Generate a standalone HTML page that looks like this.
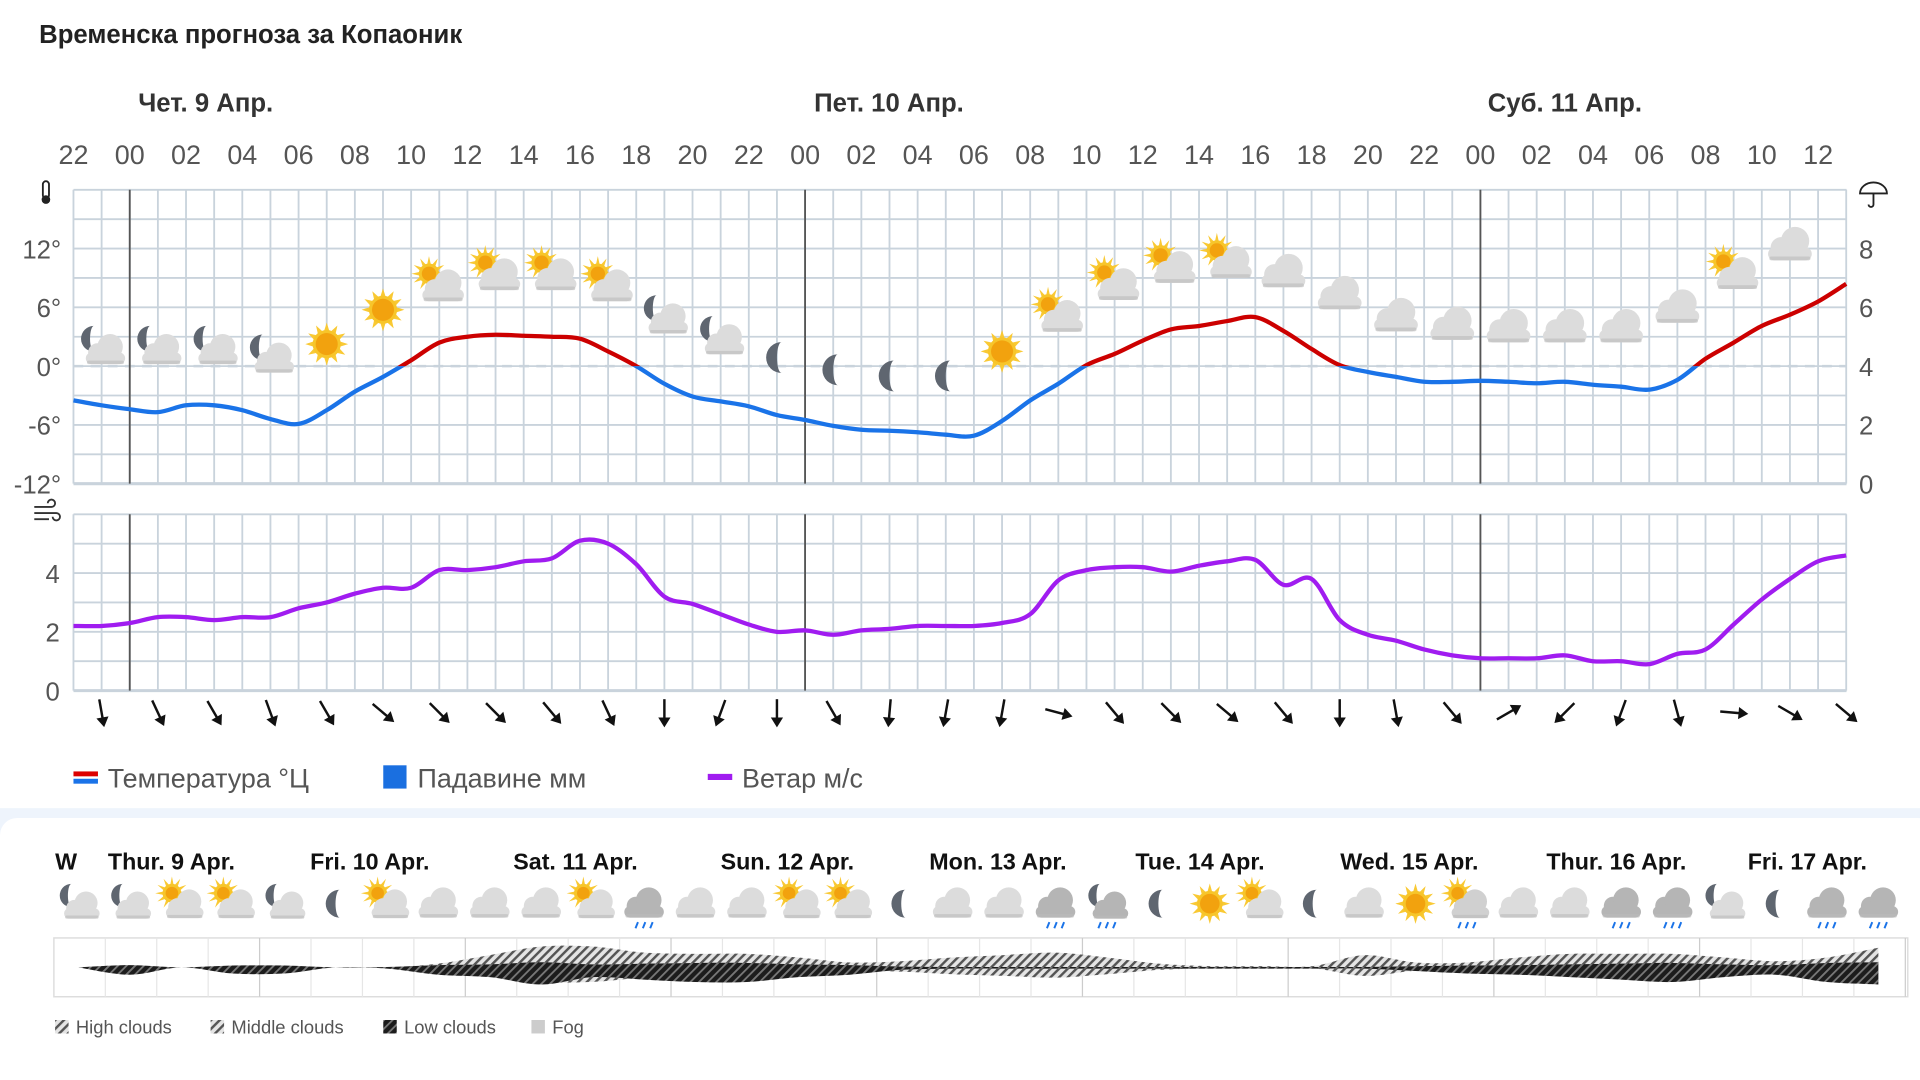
<!DOCTYPE html>
<html><head><meta charset="utf-8"><style>
html,body{margin:0;padding:0;background:#fff;width:1920px;height:1080px;overflow:hidden}
svg text{font-family:"Liberation Sans","Noto Sans CJK SC",sans-serif}
</style></head><body>
<svg id="root" xmlns="http://www.w3.org/2000/svg" width="1920" height="1080" viewBox="0 0 1568 882" preserveAspectRatio="none">
<defs>
<pattern id="hatch" width="5" height="5" patternUnits="userSpaceOnUse" patternTransform="rotate(45)"><rect width="5" height="5" fill="#e4e4e4"/><rect width="2" height="5" fill="#555"/></pattern>
<pattern id="hatchDark" width="5" height="5" patternUnits="userSpaceOnUse" patternTransform="rotate(45)"><rect width="5" height="5" fill="#1c1c1c"/><rect width="1.5" height="5" fill="#777"/></pattern>
<clipPath id="aboveZero"><rect x="0" y="0" width="1568" height="299"/></clipPath>
<clipPath id="belowZero"><rect x="0" y="299" width="1568" height="200"/></clipPath>
</defs>
<rect width="1568" height="882" fill="#fff"/>
<text x="32" y="35" font-size="21" font-weight="bold" fill="#222">Временска прогноза за Копаоник</text>
<text x="168" y="91" font-size="21" font-weight="bold" fill="#333" text-anchor="middle">Чет. 9 Апр.</text>
<text x="726" y="91" font-size="21" font-weight="bold" fill="#333" text-anchor="middle">Пет. 10 Апр.</text>
<text x="1278" y="91" font-size="21" font-weight="bold" fill="#333" text-anchor="middle">Суб. 11 Апр.</text>
<g id="grid"></g>
<g id="axes"></g>
<g id="icons"></g>
<g id="lines"></g>
<g id="arrows"></g>
<g>
 <rect x="60" y="630" width="20" height="4" fill="#d00"/><rect x="60" y="636" width="20" height="4" fill="#1a73e8"/>
 <text x="88" y="643" font-size="22" fill="#555">Температура °Ц</text>
 <rect x="313" y="625" width="19" height="19" fill="#1a6fe0"/>
 <text x="341" y="643" font-size="22" fill="#555">Падавине мм</text>
 <rect x="578" y="632" width="20" height="5" fill="#a01cf0"/>
 <text x="606" y="643" font-size="22" fill="#555">Ветар м/с</text>
</g>
<rect x="0" y="660" width="1568" height="222" fill="#eef4fc"/>
<rect x="0" y="668" width="1580" height="230" rx="14" fill="#fff"/>
<g id="bottom"></g>
<g font-size="15" fill="#555">
 <rect x="45" y="833" width="11" height="11" fill="url(#hatch)"/><text x="62" y="844">High clouds</text>
 <rect x="172" y="833" width="11" height="11" fill="url(#hatch)"/><text x="189" y="844">Middle clouds</text>
 <rect x="313" y="833" width="11" height="11" fill="url(#hatchDark)"/><text x="330" y="844">Low clouds</text>
 <rect x="434" y="833" width="11" height="11" fill="#ccc"/><text x="451" y="844">Fog</text>
</g>
</svg>
<script>
// ---- data ----
const hourLabels = ["22","00","02","04","06","08","10","12","14","16","18","20","22","00","02","04","06","08","10","12","14","16","18","20","22","00","02","04","06","08","10","12"];
const tempTicks = [12,6,0,-6,-12];
const precipTicks = [8,6,4,2,0];
const windTicks = [4,2,0];
const temperature = [-3.5,-4,-4.4,-4.7,-4,-4,-4.5,-5.4,-5.9,-4.5,-2.6,-1.1,0.6,2.4,3,3.2,3.1,3,2.8,1.5,0,-1.8,-3.1,-3.6,-4.1,-5,-5.5,-6.1,-6.5,-6.6,-6.75,-7,-7.1,-5.6,-3.5,-1.8,0.1,1.25,2.6,3.75,4.1,4.6,5,3.6,1.75,0.1,-0.6,-1.1,-1.6,-1.6,-1.5,-1.6,-1.75,-1.6,-1.9,-2.1,-2.4,-1.4,0.75,2.4,4.1,5.25,6.6,8.4];
const wind = [2.2,2.2,2.3,2.5,2.5,2.4,2.5,2.5,2.8,3.0,3.3,3.5,3.5,4.1,4.1,4.2,4.4,4.5,5.1,5.0,4.3,3.2,2.95,2.6,2.25,2.0,2.05,1.9,2.05,2.1,2.2,2.2,2.2,2.3,2.6,3.75,4.1,4.2,4.2,4.05,4.25,4.4,4.45,3.6,3.8,2.4,1.9,1.7,1.4,1.2,1.1,1.1,1.1,1.2,1.0,1.0,0.9,1.25,1.4,2.25,3.1,3.8,4.4,4.6];
const windDir = [170,155,150,160,150,130,135,135,140,155,180,200,180,150,185,190,190,105,140,135,130,140,180,170,140,60,225,200,165,95,120,130];
const iconTypes = ["mc","mc","mc","mc","s","s","sc","sc","sc","sc","mc","mc","m","m","m","m","s","sc","sc","sc","sc","c","c","c","c","c","c","c","c","sc","c"];
const iconOffsets = [7,7,7,0,10,38,58,67,67,58,32,15,-1,-11,-16,-16,4,33,59,73,77,69,51,33,26,24,24,24,40,68,91];
const bottomDays = ["Thur. 9 Apr.","Fri. 10 Apr.","Sat. 11 Apr.","Sun. 12 Apr.","Mon. 13 Apr.","Tue. 14 Apr.","Wed. 15 Apr.","Thur. 16 Apr.","Fri. 17 Apr."];
const bottomIcons = ["mc","mc","sc","sc","mc","m","sc","c","c","c","sc","r","c","c","sc","sc","m","c","c","r","mr","m","s","sc","m","c","s","sr","c","c","r","r","mc","m","r","r"];
const highClouds = [0,0,0,0,0,0,0,3,10,17,17,12,11,11,8,4,5,8,10,12,8,3,1,1,1,10,4,4,8,11,11,11,8,5,8,16];
const lowClouds = [0,6,0,5,5,0,1,6,8,14,8,10,12,12,8,6,2,1,1,1,1,1,1,1,1,1,3,5,6,8,10,12,8,6,12,14];

// ---- scales ----
const X0=60, PXH=22.98;
const xh = h => X0 + h*PXH;
const yT = t => 299 - t*8;
const yW = w => 564 - w*24;
const NS="http://www.w3.org/2000/svg";
function mk(tag, attrs, parent){const e=document.createElementNS(NS,tag);for(const k in attrs)e.setAttribute(k,attrs[k]);parent.appendChild(e);return e;}
const grid=document.getElementById('grid'), axes=document.getElementById('axes'), icons=document.getElementById('icons'), lines=document.getElementById('lines'), arrows=document.getElementById('arrows'), bottom=document.getElementById('bottom');

for(let h=0;h<=63;h++){
  const x=xh(h);
  mk('line',{x1:x,y1:155,x2:x,y2:395,stroke:'#c9d3dc','stroke-width':1.5},grid);
  mk('line',{x1:x,y1:420,x2:x,y2:564,stroke:'#c9d3dc','stroke-width':1.5},grid);
}
for(let y=155;y<=395;y+=24) mk('line',{x1:60,y1:y,x2:1508,y2:y,stroke:'#c9d3dc','stroke-width':y==395?2.5:1.5},grid);
for(let y=420;y<=564;y+=24) mk('line',{x1:60,y1:y,x2:1508,y2:y,stroke:'#c9d3dc','stroke-width':y==564?2.5:1.5},grid);
mk('line',{x1:60,y1:299,x2:1508,y2:299,stroke:'#c9d3dc','stroke-width':2,'stroke-dasharray':'8,6'},grid);
[2,26,50].forEach(h=>{
  const l=mk('line',{x1:xh(h),y1:155,x2:xh(h),y2:395,stroke:'#555','stroke-width':1.5},grid);
  
  const l2=mk('line',{x1:xh(h),y1:420,x2:xh(h),y2:564,stroke:'#555','stroke-width':1.5},grid);
  
});

hourLabels.forEach((s,i)=>{
  const t=mk('text',{x:xh(i*2),y:134,'font-size':22,fill:'#555','text-anchor':'middle'},axes);t.textContent=s;
  
  
});
tempTicks.forEach(v=>{
  const t=mk('text',{x:50,y:yT(v)+8,'font-size':21,fill:'#555','text-anchor':'end'},axes);t.textContent=v+'°';
  
  
});
precipTicks.forEach((v,i)=>{
  const t=mk('text',{x:1524,y:203+i*48+8,'font-size':21,fill:'#555','text-anchor':'middle'},axes);t.textContent=v;
  
  
});
windTicks.forEach(v=>{
  const t=mk('text',{x:43,y:yW(v)+8,'font-size':21,fill:'#555','text-anchor':'middle'},axes);t.textContent=v;
  
  
});
mk('rect',{x:35,y:148,width:5,height:14,rx:2.5,fill:'none',stroke:'#222','stroke-width':1.5},axes);
mk('circle',{cx:37.5,cy:163,r:3.5,fill:'#222'},axes);
mk('path',{d:'M1519 158 A11 9 0 0 1 1541 158 Z M1530 158 V167 a2 2 0 0 1 -4 0',fill:'none',stroke:'#222','stroke-width':1.5},axes);
mk('path',{d:'M28 414 H42 a3 3 0 1 0 -3 -3 M28 419 H46 a3 3 0 1 1 -3 3 M28 424 H40',fill:'none',stroke:'#333','stroke-width':1.5},axes);

function smooth(pts){
  let d='M'+pts[0][0]+','+pts[0][1];
  for(let i=0;i<pts.length-1;i++){
    const p0=pts[i-1]||pts[i],p1=pts[i],p2=pts[i+1],p3=pts[i+2]||p2;
    const c1=[p1[0]+(p2[0]-p0[0])/6,p1[1]+(p2[1]-p0[1])/6],c2=[p2[0]-(p3[0]-p1[0])/6,p2[1]-(p3[1]-p1[1])/6];
    d+=' C'+c1[0].toFixed(1)+','+c1[1].toFixed(1)+' '+c2[0].toFixed(1)+','+c2[1].toFixed(1)+' '+p2[0].toFixed(1)+','+p2[1].toFixed(1);
  }
  return d;
}
const tPath=smooth(temperature.map((v,i)=>[xh(i),yT(v)]));
const tb=mk('path',{d:tPath,fill:'none',stroke:'#1a73e8','stroke-width':3.5,'clip-path':'url(#belowZero)'},lines);


const tr=mk('path',{d:tPath,fill:'none',stroke:'#cc0000','stroke-width':3.5,'clip-path':'url(#aboveZero)'},lines);


const wl=mk('path',{d:smooth(wind.map((v,i)=>[xh(i),yW(v)])),fill:'none',stroke:'#a01cf0','stroke-width':3.5},lines);



windDir.forEach((a,i)=>{
  const g=mk('g',{transform:`translate(${xh(1+2*i)},582) rotate(${a-180})`},arrows);
  
  
  mk('line',{x1:0,y1:-11,x2:0,y2:8,stroke:'#111','stroke-width':2},g);
  mk('path',{d:'M-5,4 L0,12 L5,4 Z',fill:'#111'},g);
});

function cloud(p,x,y,s,col){
  const g=mk('g',{transform:`translate(${x},${y}) scale(${s})`},p);
  mk('circle',{cx:-7,cy:2,r:8,fill:col},g);
  mk('circle',{cx:4,cy:-3,r:11,fill:col},g);
  mk('rect',{x:-17,y:2,width:34,height:10,rx:5,fill:col},g);
  mk('rect',{x:-16,y:9,width:32,height:3,rx:1.5,fill:'#bbb',opacity:0.6},g);
  return g;
}
function sun(p,x,y,r){
  const g=mk('g',{transform:`translate(${x},${y})`},p);
  for(let k=0;k<12;k++){const a=k*Math.PI/6;mk('path',{d:`M${(r+7)*Math.sin(a)},${-(r+7)*Math.cos(a)} L${(r)*Math.sin(a+0.22)},${-(r)*Math.cos(a+0.22)} L${(r)*Math.sin(a-0.22)},${-(r)*Math.cos(a-0.22)} Z`,fill:'#f9c934'},g);}
  mk('circle',{cx:0,cy:0,r:r+1,fill:'#f7c52a'},g);
  mk('circle',{cx:0,cy:0,r:r-1.5,fill:'#f2a20e'},g);
}
function moon(p,x,y,r){
  mk('path',{d:`M${x+r*0.3},${y-r} A${r} ${r} 0 1 0 ${x+r*0.3},${y+r} A${r*0.3} ${r} 0 0 1 ${x+r*0.3},${y-r} Z`,fill:'#5f6670'},p);
}
function rain(p,x,y){for(let k=-1;k<=1;k++)mk('line',{x1:x+k*6+1,y1:y-2,x2:x+k*6-1,y2:y+3,stroke:'#1a73e8','stroke-width':1.6},p);}
function drawIcon(p,type,x,y,s){
  if(type=='s'){sun(p,x,y,10*s);}
  else if(type=='m'){moon(p,x,y,12*s);}
  else if(type=='c'){cloud(p,x,y,s,'#dcdcdc');}
  else if(type=='r'){cloud(p,x,y,s,'#b5b5b5');rain(p,x,y+18*s);}
  else if(type=='sc'){sun(p,x-8*s,y-9*s,7*s);cloud(p,x+3*s,y+1,s*0.95,'#dcdcdc');}
  else if(type=='sr'){sun(p,x-8*s,y-9*s,7*s);cloud(p,x+3*s,y+1,s*0.95,'#d0d0d0');rain(p,x,y+18*s);}
  else if(type=='mc'){moon(p,x-9*s,y-7*s,10*s);cloud(p,x+3*s,y+2,s*0.9,'#dcdcdc');}
  else if(type=='mr'){moon(p,x-9*s,y-7*s,10*s);cloud(p,x+3*s,y+2,s*0.9,'#b5b5b5');rain(p,x,y+18*s);}
}
iconTypes.forEach((t,i)=>{
  const x=xh(1+2*i);
  const y=299-iconOffsets[i];
  const g=mk('g',{},icons);
  
  
  drawIcon(g,t,x,y-8,1.05);
});

const dayX=[140,302,470,643,815,980,1151,1320,1476];
let w=mk('text',{x:45,y:710,'font-size':19,'font-weight':'bold',fill:'#111'},bottom);w.textContent='W';
bottomDays.forEach((s,i)=>{
  const t=mk('text',{x:dayX[i],y:710,'font-size':19,'font-weight':'bold',fill:'#111','text-anchor':'middle'},bottom);t.textContent=s;
  
  
});
bottomIcons.forEach((t,i)=>{
  const g=mk('g',{},bottom);
  
  
  drawIcon(g,t,64+42*i,738,0.95);
});
mk('rect',{x:44,y:766,width:1514,height:48,fill:'#fff',stroke:'#ddd','stroke-width':1.2},bottom);
for(let i=0;i<36;i++){const x=86+42*i;mk('line',{x1:x,y1:766,x2:x,y2:814,stroke:(i%4==3)?'#ccc':'#e6e6e6','stroke-width':1},bottom);}
const cx=i=>64+42*i;
const hiTop=highClouds.map((v,i)=>[cx(i),790-v]);
const hiBot=highClouds.map((v,i)=>[cx(i),790+v*0.7]).reverse();
const hp=mk('path',{d:smooth(hiTop)+' L'+smooth(hiBot).slice(1)+' Z',fill:'url(#hatch)'},bottom);


const loTop=lowClouds.map((v,i)=>[cx(i),790-v*0.3]);
const loBot=lowClouds.map((v,i)=>[cx(i),790+v]).reverse();
const lp=mk('path',{d:smooth(loTop)+' L'+smooth(loBot).slice(1)+' Z',fill:'url(#hatchDark)'},bottom);


</script>
</body></html>
